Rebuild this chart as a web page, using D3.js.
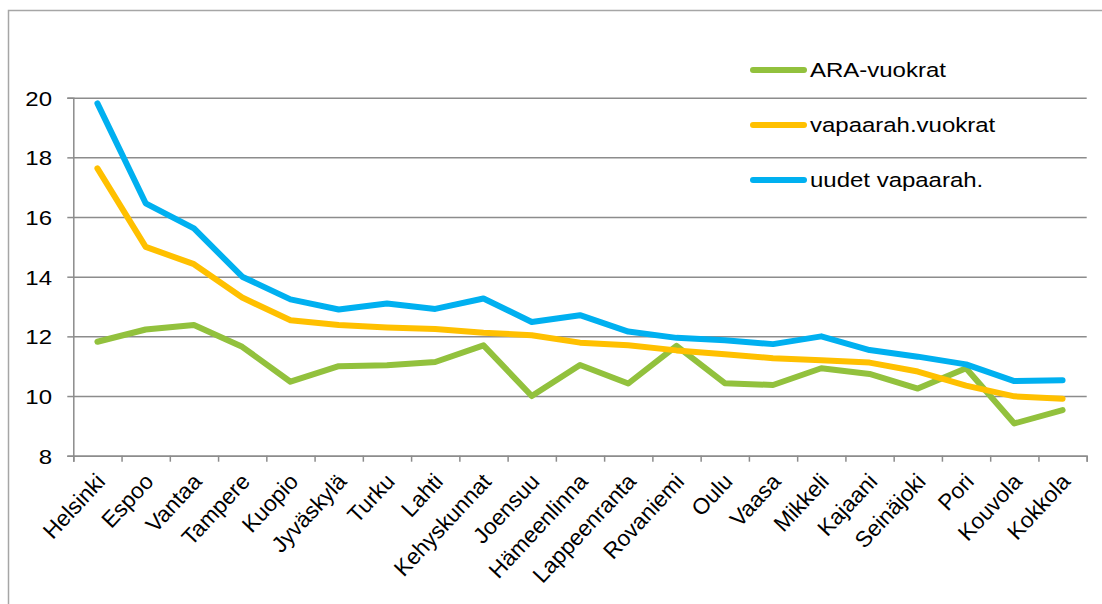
<!DOCTYPE html>
<html>
<head>
<meta charset="utf-8">
<script src="https://cdn.jsdelivr.net/npm/d3@7"></script>
<style>
  html, body { margin: 0; padding: 0; background: #fff; }
  svg { display: block; font-family: "Liberation Sans", Arial, sans-serif; }
</style>
</head>
<body>
<svg id="chart" width="1102" height="604"></svg>
<script>
// Rent levels (€/m²/month) by city
const cities = ["Helsinki", "Espoo", "Vantaa", "Tampere", "Kuopio", "Jyväskylä", "Turku", "Lahti",
  "Kehyskunnat", "Joensuu", "Hämeenlinna", "Lappeenranta", "Rovaniemi", "Oulu", "Vaasa", "Mikkeli",
  "Kajaani", "Seinäjoki", "Pori", "Kouvola", "Kokkola"];

const araVuokrat = [11.82, 12.23, 12.38, 11.65, 10.48, 11.0, 11.03, 11.14, 11.7, 10.0, 11.04,
  10.42, 11.68, 10.43, 10.37, 10.93, 10.74, 10.25, 10.93, 9.08, 9.53];
const vapaarahVuokrat = [17.63, 15.0, 14.42, 13.3, 12.54, 12.38, 12.3, 12.25, 12.12, 12.04, 11.79,
  11.7, 11.53, 11.4, 11.27, 11.2, 11.12, 10.82, 10.35, 9.99, 9.91];
const uudetVapaarah = [19.81, 16.46, 15.62, 14.0, 13.24, 12.9, 13.1, 12.92, 13.27, 12.48, 12.71,
  12.16, 11.95, 11.87, 11.74, 12.0, 11.54, 11.32, 11.06, 10.5, 10.53];

const seriesNames = ["ARA-vuokrat", "vapaarah.vuokrat", "uudet vapaarah."];
const seriesColors = ["#92C13D", "#FFC000", "#00B0F0"];
const yTicks = [8, 10, 12, 14, 16, 18, 20];

const series = [araVuokrat, vapaarahVuokrat, uudetVapaarah].map((values, i) => ({
  name: seriesNames[i], color: seriesColors[i], values
}));

const svg = d3.select("#chart");
const gridColor = "#8c8c8c";
const stretch = 1.17;      // horizontal text scaling
const fontSize = 20.5;

const plotLeft = 73.3, plotRight = 1086.7, plotTop = 97.7, plotBottom = 455.7;

// outer chart frame
svg.append("rect")
  .attr("x", 8.5).attr("y", 10.5)
  .attr("width", 1110).attr("height", 610)
  .attr("fill", "none").attr("stroke", "#a6a6a6").attr("stroke-width", 1.5);

const x = d3.scaleBand().domain(cities).range([plotLeft, plotRight]).padding(0);
const xEdges = d3.scaleLinear().domain([0, cities.length]).range([plotLeft, plotRight]);
const y = d3.scaleLinear().domain([8, 20]).range([plotBottom, plotTop]);

// horizontal gridlines + y ticks
const yAxis = svg.append("g")
  .attr("transform", `translate(${plotLeft},0)`)
  .call(d3.axisLeft(y).tickValues(yTicks).tickSize(6).tickFormat(d3.format("d")));
yAxis.select(".domain").attr("stroke", gridColor).attr("stroke-width", 1.5);
yAxis.selectAll(".tick line").attr("stroke", gridColor).attr("stroke-width", 1.5);
yAxis.selectAll(".tick").append("line")
  .attr("x1", 0).attr("x2", plotRight - plotLeft)
  .attr("stroke", gridColor).attr("stroke-width", 1.5);
yAxis.selectAll(".tick text")
  .attr("x", 0).attr("dy", null)
  .attr("font-size", fontSize).attr("font-family", "Liberation Sans, Arial, sans-serif")
  .attr("fill", "#000").attr("text-anchor", "end")
  .attr("transform", `translate(${52 - plotLeft},7.4) scale(${stretch},1)`);

// x axis: tick marks between categories
const xAxis = svg.append("g")
  .attr("transform", `translate(0,${plotBottom})`)
  .call(d3.axisBottom(xEdges).tickValues(d3.range(cities.length + 1)).tickSize(6).tickFormat(""));
xAxis.select(".domain").attr("stroke", gridColor).attr("stroke-width", 1.5);
xAxis.selectAll(".tick line").attr("stroke", gridColor).attr("stroke-width", 1.5);

// category labels, rotated
const xLabels = svg.append("g")
  .attr("transform", `translate(0,${plotBottom})`)
  .call(d3.axisBottom(x).tickSize(0));
xLabels.select(".domain").remove();
xLabels.selectAll(".tick text")
  .attr("x", 0).attr("y", 0).attr("dy", null)
  .attr("font-size", 22.5).attr("font-family", "Liberation Sans, Arial, sans-serif")
  .attr("fill", "#000").attr("text-anchor", "end")
  .attr("transform", "translate(9,27) rotate(-47)");

// series lines
const line = d3.line()
  .x((d, i) => x(cities[i]) + x.bandwidth() / 2)
  .y(d => y(d));

svg.append("g").selectAll("path")
  .data(series)
  .join("path")
  .attr("d", d => line(d.values))
  .attr("fill", "none")
  .attr("stroke", d => d.color)
  .attr("stroke-width", 6)
  .attr("stroke-linejoin", "round")
  .attr("stroke-linecap", "round");

// legend
const legendY = d3.scalePoint().domain(seriesNames).range([70, 180]);
const legend = svg.append("g").selectAll("g")
  .data(series)
  .join("g")
  .attr("transform", d => `translate(0,${legendY(d.name)})`);
legend.append("line")
  .attr("x1", 753).attr("x2", 804)
  .attr("stroke", d => d.color).attr("stroke-width", 6).attr("stroke-linecap", "round");
legend.append("text")
  .attr("transform", `translate(810,7.4) scale(${stretch},1)`)
  .attr("font-size", fontSize)
  .attr("fill", "#000")
  .text(d => d.name);
</script>
</body>
</html>
